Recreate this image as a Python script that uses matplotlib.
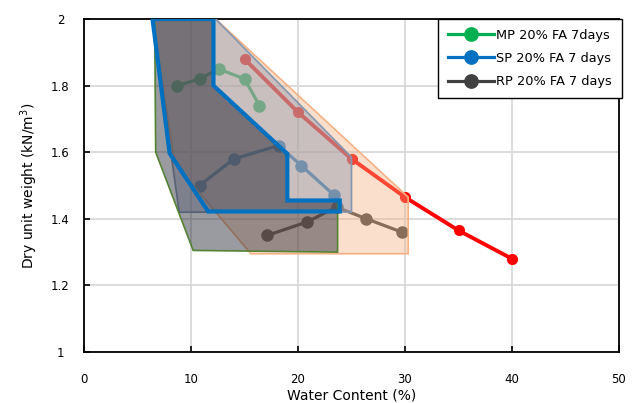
import matplotlib
matplotlib.use("Agg")
import matplotlib.pyplot as plt
from matplotlib.patches import Polygon

# ---- data ----
mp_w = [8.7, 10.8, 12.6, 15.0, 16.4]
mp_d = [1.80, 1.82, 1.85, 1.82, 1.74]
sp_w = [10.8, 14.0, 18.2, 20.3, 23.4]
sp_d = [1.50, 1.58, 1.62, 1.56, 1.47]
rp_w = [17.1, 20.8, 23.6, 26.4, 29.7]
rp_d = [1.35, 1.39, 1.435, 1.40, 1.36]
zav_w = [15, 20, 25, 30, 35, 40]
zav_d = [1.88, 1.72, 1.58, 1.465, 1.365, 1.28]

# shaded regions (water content, dry unit weight)
rp_region_w = [12.3, 30.3, 30.3, 15.6, 8.5, 6.4]
rp_region_d = [2.0, 1.465, 1.295, 1.295, 1.565, 2.0]
sp_light_w = [6.4, 8.2, 8.9, 25.0, 25.0, 12.3]
sp_light_d = [2.0, 1.58, 1.42, 1.42, 1.585, 2.0]
mp_region_w = [6.6, 6.7, 10.2, 23.7, 23.7, 19.0, 19.0, 12.1, 12.1]
mp_region_d = [2.0, 1.60, 1.305, 1.30, 1.455, 1.455, 1.59, 1.80, 2.0]
sp_region_w = [6.4, 12.1, 12.1, 19.0, 19.0, 23.9, 23.9, 11.6, 8.0]
sp_region_d = [2.0, 2.0, 1.80, 1.595, 1.455, 1.455, 1.422, 1.422, 1.597]

labels = ["MP 20% FA 7days", "SP 20% FA 7 days", "RP 20% FA 7 days"]
x_ticks = [0, 10, 20, 30, 40, 50]
y_ticks = [1, 1.2, 1.4, 1.6, 1.8, 2]
y_tick_labels = ["1", "1.2", "1.4", "1.6", "1.8", "2"]

fig = plt.figure(figsize=(6.35, 4.03), dpi=100)
ax = fig.add_axes([84/635, 1-352/403, (619-84)/635, (352-19)/403])

ax.plot(zav_w, zav_d, color="#ff0000", lw=2.8, marker="o", ms=7, zorder=1.5)
ax.plot(mp_w, mp_d, color="#00b050", lw=2.3, marker="o", ms=8, zorder=2, label=labels[0])
ax.plot(sp_w, sp_d, color="#0070c0", lw=2.3, marker="o", ms=8, zorder=2, label=labels[1])
ax.plot(rp_w, rp_d, color="#404040", lw=2.3, marker="o", ms=8, zorder=2, label=labels[2])

ax.add_patch(Polygon(list(zip(rp_region_w, rp_region_d)), closed=True,
                     facecolor=(0.957, 0.694, 0.514, 0.4), edgecolor="#f4b183", lw=1.2, zorder=3))
ax.add_patch(Polygon(list(zip(sp_light_w, sp_light_d)), closed=True,
                     facecolor=(0.557, 0.604, 0.69, 0.45), edgecolor="#8497b0", lw=1.2, zorder=4))
ax.add_patch(Polygon(list(zip(mp_region_w, mp_region_d)), closed=True,
                     facecolor=(0.12, 0.13, 0.18, 0.45), edgecolor="#548235", lw=1.2, zorder=5))
ax.add_patch(Polygon(list(zip(sp_region_w, sp_region_d)), closed=True,
                     facecolor=(0.3, 0.28, 0.27, 0.12), edgecolor="#0070c0", lw=3, zorder=6,
                     joinstyle="miter"))

ax.set_xlim(0, 50)
ax.set_ylim(1, 2)
ax.set_xticks(x_ticks)
ax.set_yticks(y_ticks)
ax.set_yticklabels(y_tick_labels)
ax.grid(True, color="#d9d9d9", lw=1.3, zorder=0)
ax.set_axisbelow(True)
ax.tick_params(direction="in", length=4, width=1.2, labelsize=8.5, colors="black")
ax.tick_params(axis="x", pad=15)
ax.tick_params(axis="y", pad=17)
for s in ax.spines.values():
    s.set_linewidth(1.3)
    s.set_color("black")
for lab in ax.get_yticklabels():
    lab.set_horizontalalignment("center")

ax.set_xlabel("Water Content (%)", fontsize=10, labelpad=2)
ax.set_ylabel("Dry unit weight (kN/m$^3$)", fontsize=10, labelpad=8)

leg = ax.legend(loc="upper right", bbox_to_anchor=(1.005, 1.0), fontsize=9.3, frameon=True,
                fancybox=False, edgecolor="black", handlelength=3.6, labelspacing=0.8,
                borderpad=0.75, handletextpad=0.15, borderaxespad=0, framealpha=1,
                markerscale=1.2)
leg.get_frame().set_linewidth(1.0)
leg.set_zorder(10)

fig.savefig("out.png", dpi=100)
